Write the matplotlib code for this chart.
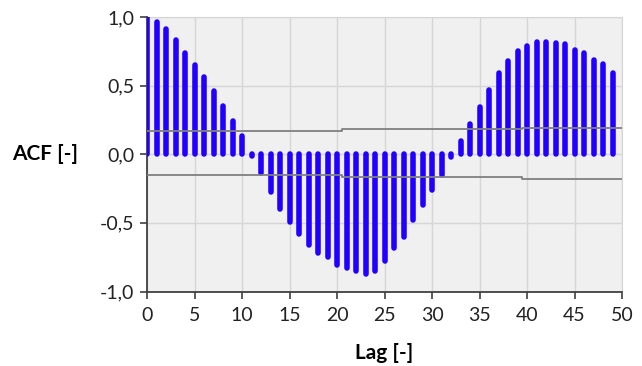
import matplotlib
matplotlib.use("Agg")
import matplotlib.pyplot as plt
from matplotlib.ticker import FuncFormatter, MultipleLocator

# ACF per lag
lags = list(range(50))
acf = [1.00, 0.966, 0.91, 0.83, 0.74, 0.65, 0.56, 0.46, 0.35, 0.24,
       0.13, -0.01, -0.14, -0.275, -0.40, -0.49, -0.58, -0.66, -0.72, -0.75,
       -0.81, -0.83, -0.85, -0.87, -0.85, -0.78, -0.68, -0.60, -0.48, -0.37,
       -0.26, -0.15, -0.02, 0.095, 0.22, 0.345, 0.47, 0.59, 0.68, 0.75,
       0.79, 0.815, 0.815, 0.81, 0.80, 0.76, 0.735, 0.69, 0.66, 0.59]

# confidence bounds (step lines)
conf_x = [0, 20.5, 39.5, 50]
conf_upper = [0.172, 0.185, 0.192, 0.192]
conf_lower = [-0.151, -0.168, -0.182, -0.182]

plt.rcParams["font.family"] = ["Lato", "DejaVu Sans"]

fig = plt.figure(figsize=(6.42, 3.66), dpi=100)
ax = fig.add_axes([147 / 642, 1 - 291.5 / 366, 475 / 642, 274.5 / 366])
ax.set_facecolor("#f0f0f0")

ax.vlines(lags, 0, acf, color="#2200ff", lw=4.0, capstyle="round", zorder=3)
ax.step(conf_x, conf_upper, where="post", color="#808080", lw=1.3, zorder=4)
ax.step(conf_x, conf_lower, where="post", color="#808080", lw=1.3, zorder=4)

ax.set_xlim(0, 50)
ax.set_ylim(-1, 1)
ax.xaxis.set_major_locator(MultipleLocator(5))
ax.yaxis.set_major_locator(MultipleLocator(0.5))
ax.yaxis.set_major_formatter(FuncFormatter(lambda v, p: f"{v:.1f}".replace(".", ",")))
ax.grid(color="#d6d6d6", lw=1.0, zorder=0)
ax.set_axisbelow(True)

for s in ("top", "right"):
    ax.spines[s].set_color("#d6d6d6")
for s in ("left", "bottom"):
    ax.spines[s].set_color("#404040")
    ax.spines[s].set_linewidth(1.3)
ax.tick_params(direction="out", length=5, width=1.2, color="#404040",
               labelsize=14, labelcolor="#222222")
ax.tick_params(axis="x", pad=6)
ax.tick_params(axis="y", pad=4)

ax.set_xlabel("Lag [-]", fontsize=15, fontweight="bold", labelpad=14)
fig.text(12 / 642, 1 - 154 / 366, "ACF [-]", fontsize=15, fontweight="bold",
         va="center", ha="left")

fig.savefig("out.png", dpi=100)
